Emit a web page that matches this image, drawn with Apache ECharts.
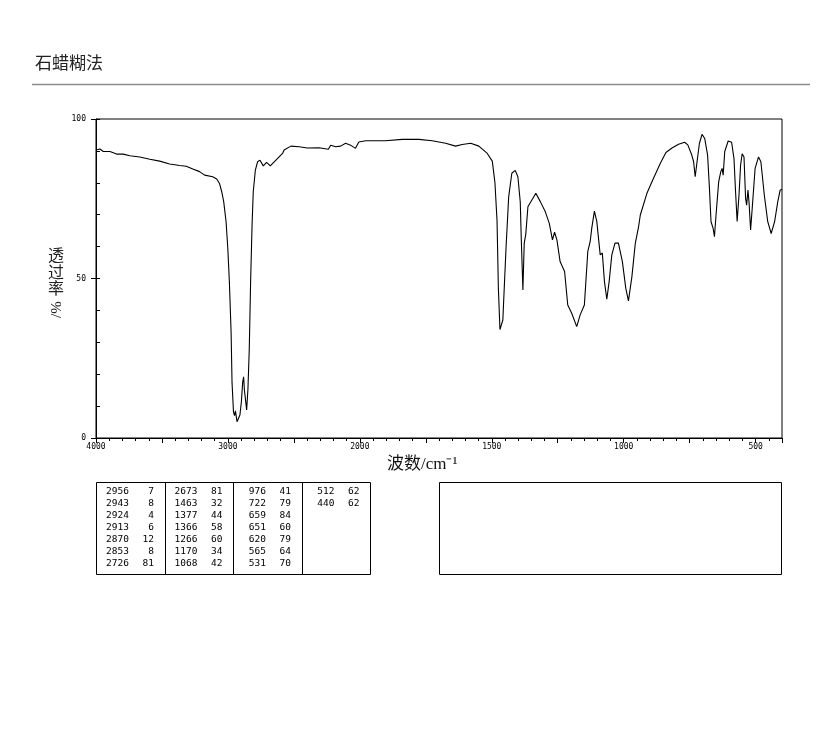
<!DOCTYPE html>
<html>
<head>
<meta charset="utf-8">
<script src="https://cdn.jsdelivr.net/npm/echarts@6/dist/echarts.min.js"></script>
<style>
html,body{margin:0;padding:0;background:#fff;}
#chart{width:822px;height:737px;}
</style>
</head>
<body>
<div id="chart"></div>
<script>
// ---- data ----
const title = '石蜡糊法';
const xAxisName = '波数/cm⁻¹';
const yAxisNameChars = ['透', '过', '率'];
const yAxisNameTail = '/%';
const xTickLabels = [4000, 3000, 2000, 1500, 1000, 500];
const yTickLabels = [0, 50, 100];

const wavenumbers = [4000,3970,3945,3894,3844,3794,3743,3668,3592,3517,3442,3366,3316,3266,3215,3177,3115,3085,3064,3047,3032,3014,3001,2989,2976,2969,2958,2950,2943,2931,2921,2909,2898,2888,2881,2875,2868,2858,2848,2838,2828,2817,2808,2792,2775,2757,2732,2707,2679,2636,2586,2574,2523,2460,2398,2309,2239,2221,2184,2146,2108,2070,2033,2008,1978,1903,1840,1776,1726,1675,1637,1612,1580,1549,1517,1498,1488,1480,1475,1469,1463,1458,1455,1446,1436,1424,1411,1401,1392,1388,1382,1377,1371,1363,1348,1333,1316,1297,1282,1270,1262,1253,1241,1224,1212,1197,1178,1165,1149,1136,1127,1121,1111,1102,1089,1081,1073,1064,1055,1045,1033,1020,1005,992,982,969,956,944,937,912,887,861,840,817,792,769,757,742,735,729,722,713,703,693,682,675,669,661,656,650,640,632,627,623,617,604,591,582,576,570,563,557,551,544,538,534,529,525,519,512,502,489,480,467,454,441,428,416,407,400];
const transmittance = [90.3,90.6,89.8,89.8,89.0,89.0,88.5,88.1,87.4,86.8,85.9,85.4,85.2,84.3,83.5,82.4,81.9,81.2,79.8,77.2,74.1,67.8,59.5,49.0,33.3,17.6,8.2,7.0,8.5,5.1,4.6,7.2,11.4,17.6,19.2,15.0,15.6,8.8,15.6,28.2,49.0,66.8,77.2,84.0,86.6,87.1,85.3,86.4,85.3,87.1,89.2,90.3,91.5,91.3,90.9,91.0,90.5,91.8,91.3,91.5,92.4,91.8,90.8,92.8,93.2,93.2,93.6,93.6,93.2,92.4,91.5,92.0,92.4,91.5,89.2,86.8,80.0,68.0,47.0,34.0,33.6,37.0,42.8,59.5,75.5,83.0,83.9,81.9,74.0,62.0,46.4,61.0,64.0,72.5,74.6,76.7,74.1,70.9,67.3,62.1,64.5,62.1,55.3,52.2,41.7,39.1,34.9,38.6,41.7,58.5,61.6,65.8,71.1,67.9,57.4,58.0,49.1,43.5,49.1,57.4,61.1,61.1,55.3,46.9,43.0,50.5,61.0,66.0,69.9,76.7,81.4,86.1,89.5,90.9,92.1,92.7,91.9,88.7,86.6,81.9,86.6,92.4,95.2,93.9,88.7,78.2,67.8,65.7,63.1,69.9,80.3,83.5,84.5,82.4,89.8,93.1,92.7,87.6,77.2,67.9,76.1,85.5,89.1,88.1,75.1,73.0,77.7,74.0,65.2,73.0,84.5,88.1,86.6,76.1,67.8,64.1,67.8,74.1,77.7,78.0];

const peakWavenumbers = [
  [2956, 2943, 2924, 2913, 2870, 2853, 2726],
  [2673, 1463, 1377, 1366, 1266, 1170, 1068],
  [976, 722, 659, 651, 620, 565, 531],
  [512, 440]
];
const peakTransmittance = [
  [7, 8, 4, 6, 12, 8, 81],
  [81, 32, 44, 58, 60, 34, 42],
  [41, 79, 84, 60, 79, 64, 70],
  [62, 62]
];

// ---- axis transform: 4000-2000 at half scale, 2000-400 at full scale ----
function toU(w) { return w >= 2000 ? (4000 - w) / 2 : 1000 + (2000 - w); }
function fromU(u) { return u <= 1000 ? 4000 - 2 * u : 3000 - u; }

const seriesData = wavenumbers.map((w, i) => [toU(w), transmittance[i]]);
const xLabelSet = new Set(xTickLabels.map(toU));

// ---- layout ----
const G = { left: 96, top: 119, width: 686, height: 319 };
const tickFont = 'DejaVu Sans Mono, monospace';
const tableFont = 'DejaVu Sans Mono, monospace';

const graphics = [];
graphics.push({ type: 'text', left: 35, top: 54, style: { text: title, font: '17px "Noto Sans CJK SC", sans-serif', fill: '#222' } });
graphics.push({ type: 'line', shape: { x1: 32, y1: 84.5, x2: 810, y2: 84.5 }, style: { stroke: '#8c8c8c', lineWidth: 1.5 } });
graphics.push({ type: 'text', x: 387, y: 456, style: { text: xAxisName, font: '17px "Liberation Serif", "Noto Sans CJK SC", serif', fill: '#111' } });
graphics.push({ type: 'text', x: 48, y: 247, style: { text: yAxisNameChars.join('\n'), font: '16px "Noto Sans CJK SC", sans-serif', lineHeight: 16.5, fill: '#222' } });
graphics.push({ type: 'text', x: 50, y: 318, rotation: Math.PI / 2, style: { text: yAxisNameTail, font: '15px "Liberation Serif", serif', fill: '#222' } });

// peak table
const tX = 96, tY = 482, tW = 274, tH = 92, colW = tW / 4;
graphics.push({ type: 'rect', shape: { x: tX + 0.5, y: tY + 0.5, width: tW, height: tH }, style: { fill: 'none', stroke: '#000', lineWidth: 1 } });
for (let c = 1; c < 4; c++) {
  const x = Math.round(tX + c * colW) + 0.5;
  graphics.push({ type: 'line', shape: { x1: x, y1: tY, x2: x, y2: tY + tH }, style: { stroke: '#000', lineWidth: 1 } });
}
peakWavenumbers.forEach((col, c) => {
  col.forEach((w, r) => {
    const cx = tX + c * colW;
    const y = tY + 9.5 + r * 12;
    graphics.push({ type: 'text', x: cx + 33, y: y, style: { text: String(w), font: '9.5px ' + tableFont, fill: '#000', align: 'right', verticalAlign: 'middle' } });
    graphics.push({ type: 'text', x: cx + 58, y: y, style: { text: String(peakTransmittance[c][r]), font: '9.5px ' + tableFont, fill: '#000', align: 'right', verticalAlign: 'middle' } });
  });
});
// empty box on the right
graphics.push({ type: 'rect', shape: { x: 439.5, y: 482.5, width: 342, height: 92 }, style: { fill: 'none', stroke: '#000', lineWidth: 1 } });

const chart = echarts.init(document.getElementById('chart'), null, { renderer: 'canvas' });
chart.setOption({
  animation: false,
  backgroundColor: '#fff',
  grid: { left: G.left, top: G.top, width: G.width, height: G.height, show: true, borderColor: '#000', borderWidth: 1, backgroundColor: 'transparent' },
  xAxis: {
    type: 'value', min: 0, max: 2600, interval: 250,
    axisLine: { show: true, lineStyle: { color: '#000', width: 1 } },
    axisTick: { show: true, inside: false, length: 5, lineStyle: { color: '#000' } },
    minorTick: { show: true, splitNumber: 5, length: 3, lineStyle: { color: '#000' } },
    splitLine: { show: false },
    axisLabel: {
      margin: 5, fontSize: 8, fontFamily: tickFont, color: '#000',
      formatter: (v) => xLabelSet.has(v) ? String(fromU(v)) : ''
    }
  },
  yAxis: [
    {
      type: 'value', min: 0, max: 100, interval: 10, position: 'left',
      axisLine: { show: true, lineStyle: { color: '#000' } },
      axisTick: { show: true, inside: true, length: 4, lineStyle: { color: '#000' } },
      splitLine: { show: false },
      axisLabel: { show: false }
    },
    {
      type: 'value', min: 0, max: 100, interval: 50, position: 'left', offset: 0,
      axisLine: { show: false },
      axisTick: { show: true, inside: false, length: 5, lineStyle: { color: '#000' } },
      splitLine: { show: false },
      axisLabel: {
        margin: 10, fontSize: 8, fontFamily: tickFont, color: '#000',
        formatter: (v) => yTickLabels.includes(v) ? String(v) : ''
      }
    }
  ],
  series: [{
    type: 'line', data: seriesData, showSymbol: false, symbol: 'none',
    lineStyle: { color: '#000', width: 1.1 }, silent: true, clip: true
  }],
  graphic: graphics
});
</script>
</body>
</html>
